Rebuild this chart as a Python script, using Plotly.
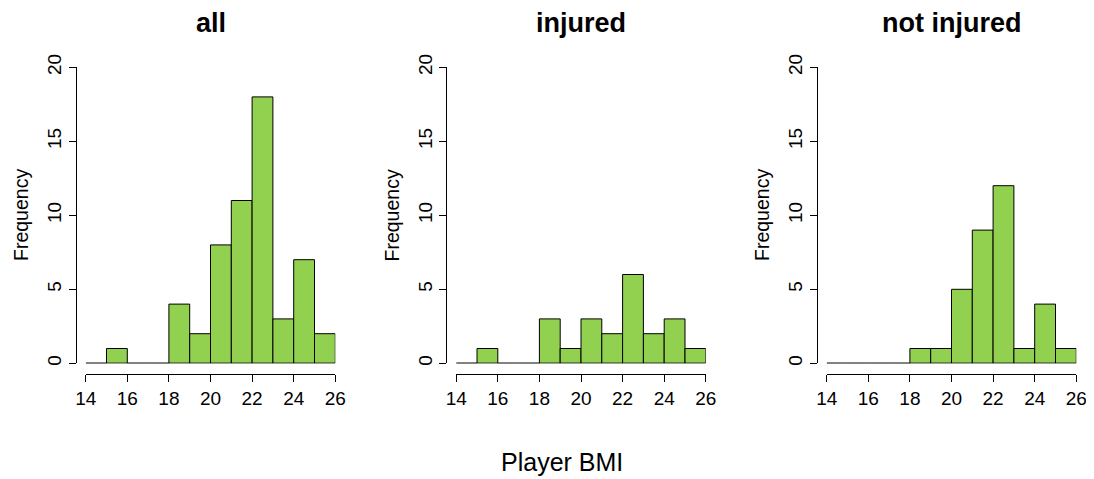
import plotly.graph_objects as go

# Data
bin_edges = [14, 15, 16, 17, 18, 19, 20, 21, 22, 23, 24, 25, 26]
panel_titles = ["all", "injured", "not injured"]
counts_all = [0, 1, 0, 0, 4, 2, 8, 11, 18, 3, 7, 2]
counts_injured = [0, 1, 0, 0, 3, 1, 3, 2, 6, 2, 3, 1]
counts_not_injured = [0, 0, 0, 0, 1, 1, 5, 9, 12, 1, 4, 1]
x_ticks = [14, 16, 18, 20, 22, 24, 26]
y_ticks = [0, 5, 10, 15, 20]
x_label = "Player BMI"
y_label = "Frequency"

series = [counts_all, counts_injured, counts_not_injured]

# the page body has an 8px margin; size the figure so it reaches the window edges
OFF = 8
W, H = 1094 - OFF, 479 - OFF
FONT = "Liberation Sans, Arial, Helvetica, sans-serif"
GREEN = "#92D050"

# pixel layout of panels (window coordinates)
x0_px = [85.7, 456.2, 826.7]
panel_w = 249.6
y_top_px, y_bot_px = 67.3, 363.3
xaxis_line_px = 374.3
yaxis_offset_px = 10.0

def px_x(p):
    return (p - OFF) / W

def px_y(p):
    return 1 - (p - OFF) / H

fig = go.Figure()
centers = [(bin_edges[i] + bin_edges[i + 1]) / 2 for i in range(len(bin_edges) - 1)]
widths = [bin_edges[i + 1] - bin_edges[i] for i in range(len(bin_edges) - 1)]

layout = dict(
    template="none",
    width=W, height=H, autosize=False,
    margin=dict(l=0, r=0, t=0, b=0, pad=0, autoexpand=False),
    paper_bgcolor="white", plot_bgcolor="white",
    showlegend=False,
    font=dict(family=FONT, color="black"),
)
annotations = []

for k, counts in enumerate(series):
    xa = "x" if k == 0 else f"x{k+1}"
    ya = "y" if k == 0 else f"y{k+1}"
    # baseline for empty bins
    fig.add_trace(go.Scatter(
        x=[bin_edges[0], bin_edges[-1]], y=[0, 0], mode="lines",
        line=dict(color="black", width=1), xaxis=xa, yaxis=ya,
        cliponaxis=False, hoverinfo="skip"))
    fig.add_trace(go.Bar(
        x=centers, y=counts, width=widths,
        marker=dict(color=GREEN, line=dict(color="black", width=1)),
        xaxis=xa, yaxis=ya, cliponaxis=False))

    left = x0_px[k]
    right = left + panel_w
    xkey = "xaxis" if k == 0 else f"xaxis{k+1}"
    ykey = "yaxis" if k == 0 else f"yaxis{k+1}"
    layout[xkey] = dict(
        domain=[px_x(left), px_x(right)], range=[bin_edges[0], bin_edges[-1]],
        anchor="free", position=px_y(xaxis_line_px), automargin=False,
        showline=True, linecolor="black", linewidth=1,
        ticks="outside", ticklen=7, tickwidth=1, tickcolor="black",
        tickvals=x_ticks, ticktext=[str(v) for v in x_ticks],
        tickfont=dict(size=19, family=FONT, color="black"),
        ticklabeloverflow="allow",
        showgrid=False, zeroline=False, fixedrange=True,
    )
    layout[ykey] = dict(
        domain=[px_y(y_bot_px), px_y(y_top_px)], range=[0, 20],
        anchor="free", position=px_x(left - yaxis_offset_px), automargin=False,
        showline=True, linecolor="black", linewidth=1,
        ticks="outside", ticklen=7, tickwidth=1, tickcolor="black",
        tickvals=y_ticks, ticktext=[str(v) for v in y_ticks],
        tickangle=-90,
        tickfont=dict(size=19, family=FONT, color="black"),
        ticklabeloverflow="allow",
        showgrid=False, zeroline=False, fixedrange=True,
    )
    # panel title
    annotations.append(dict(
        text=f"<b>{panel_titles[k]}</b>", xref="paper", yref="paper",
        x=px_x((left - yaxis_offset_px + right + yaxis_offset_px) / 2),
        y=px_y(23), xanchor="center", yanchor="middle", showarrow=False,
        font=dict(size=27, family=FONT, color="black")))
    # y label
    annotations.append(dict(
        text=y_label, xref="paper", yref="paper",
        x=px_x(left - 64), y=px_y((y_top_px + y_bot_px) / 2),
        xanchor="center", yanchor="middle", textangle=-90, showarrow=False,
        font=dict(size=19.5, family=FONT, color="black")))

annotations.append(dict(
    text=x_label, xref="paper", yref="paper", x=px_x(562), y=px_y(462),
    xanchor="center", yanchor="middle", showarrow=False,
    font=dict(size=25, family=FONT, color="black")))

layout["annotations"] = annotations
fig.update_layout(**layout)
fig.write_html("out.html")
